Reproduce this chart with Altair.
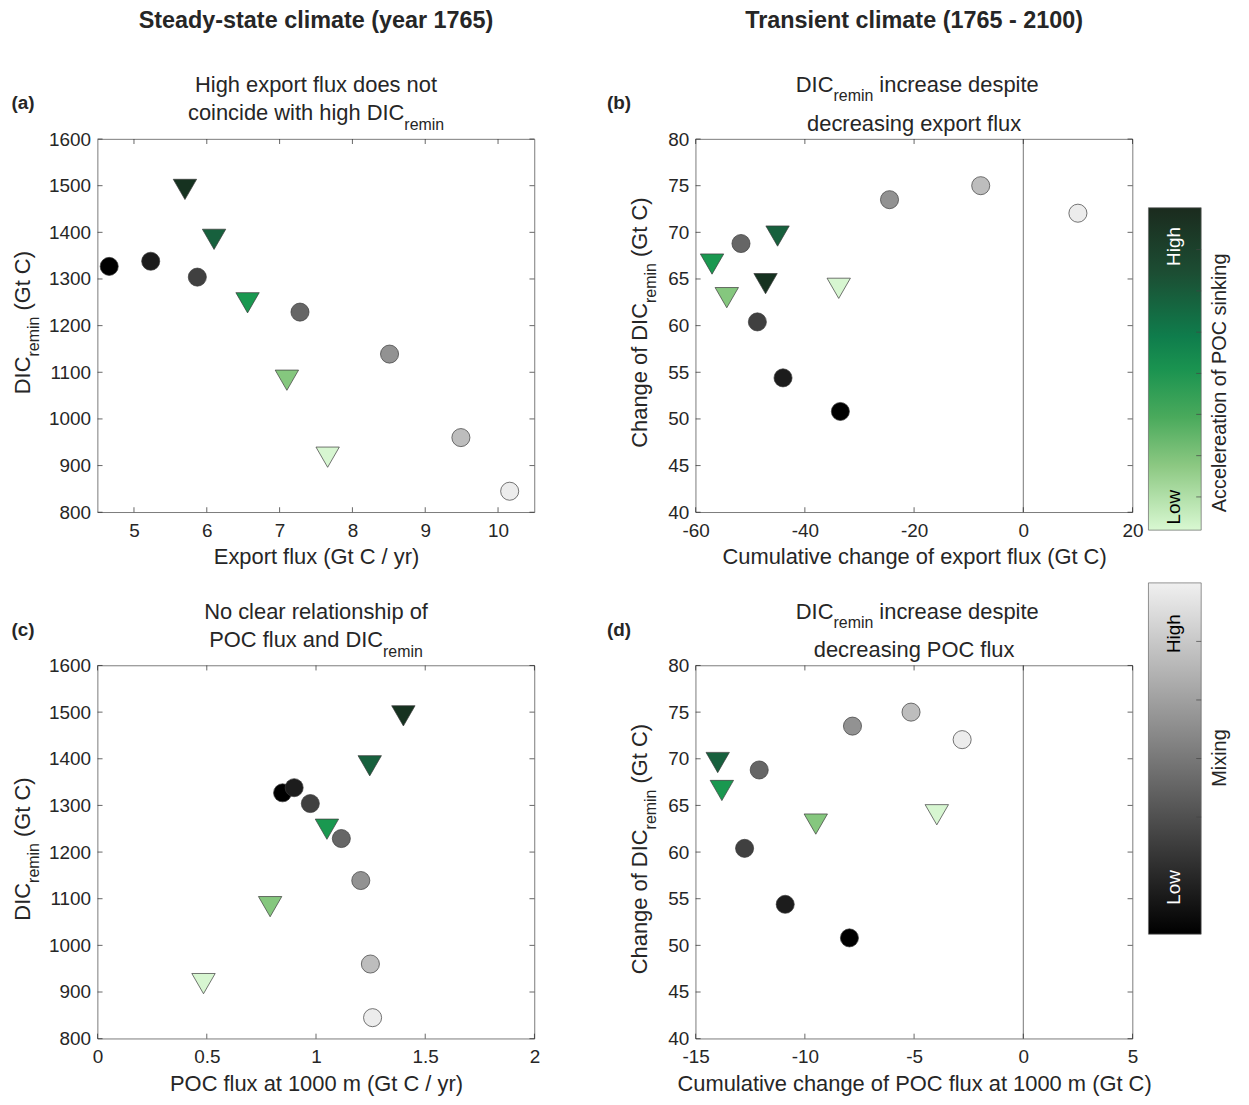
import altair as alt
import pandas as pd

FONT = "Liberation Sans"
TXT = "#262626"

# ---------------- data ----------------
# Mixing experiments (circles), ordered low -> high mixing
mix_level = ["m1", "m2", "m3", "m4", "m5", "m6", "m7"]
mix_export = [4.66, 5.23, 5.87, 7.28, 8.51, 9.49, 10.16]
mix_poc = [0.847, 0.900, 0.974, 1.116, 1.205, 1.249, 1.259]
mix_dic = [1327, 1338, 1304, 1229, 1139, 960, 845]
mix_d_export = [-33.5, -44.0, -48.7, -51.7, -24.5, -7.8, 10.0]
mix_d_poc = [-7.96, -10.9, -12.76, -12.09, -7.82, -5.14, -2.80]
mix_d_dic = [50.8, 54.4, 60.4, 68.8, 73.5, 75.0, 72.05]

# POC-sinking experiments (triangles), ordered low -> high acceleration
sink_level = ["s1", "s2", "s3", "s4", "s5"]
sink_export = [7.66, 7.10, 6.56, 6.10, 5.70]
sink_poc = [0.485, 0.79, 1.05, 1.246, 1.40]
sink_dic = [918, 1083, 1249, 1385, 1492]
sink_d_export = [-33.8, -54.3, -57.0, -45.0, -47.2]
sink_d_poc = [-3.96, -9.5, -13.8, -13.99, None]
sink_d_dic = [64.0, 63.0, 66.6, 69.6, 64.5]

# tick values
ticks_a_x = [5, 6, 7, 8, 9, 10]
ticks_c_x = [0, 0.5, 1, 1.5, 2]
ticks_b_x = [-60, -40, -20, 0, 20]
ticks_d_x = [-15, -10, -5, 0, 5]
ticks_dic = [800, 900, 1000, 1100, 1200, 1300, 1400, 1500, 1600]
ticks_ddic = [40, 45, 50, 55, 60, 65, 70, 75, 80]

# ---------------- styles ----------------
mix_colors = ["#000000", "#1c1c1c", "#404040", "#666666", "#929292", "#bdbdbd", "#ececec"]
sink_colors = ["#d7f6d1", "#85c77e", "#1a9850", "#17603d", "#163220"]
green_stops = [("#1b2b1e", 0.0), ("#1c4d33", 0.2), ("#0f7d4c", 0.4), ("#1a9350", 0.5),
               ("#4aaa5c", 0.65), ("#8cc882", 0.8), ("#d9f8d2", 1.0)]
gray_stops = [("#f0f0f0", 0.0), ("#000000", 1.0)]

rows = []
for i, lv in enumerate(sink_level):
    rows.append(dict(kind="sink", level=lv, export=sink_export[i], poc=sink_poc[i], dic=sink_dic[i],
                     d_export=sink_d_export[i], d_poc=sink_d_poc[i], d_dic=sink_d_dic[i]))
for i, lv in enumerate(mix_level):
    rows.append(dict(kind="mix", level=lv, export=mix_export[i], poc=mix_poc[i], dic=mix_dic[i],
                     d_export=mix_d_export[i], d_poc=mix_d_poc[i], d_dic=mix_d_dic[i]))
df = pd.DataFrame(rows)

W, H = 439, 375
one = pd.DataFrame({"k": [0]})


def T(s, x, y, size=22, angle=0, align="center", weight="normal", color=TXT):
    return alt.Chart(one).mark_text(text=s, font=FONT, fontSize=size, angle=angle, align=align,
                                    baseline="middle", fontWeight=weight, color=color).encode(
        x=alt.value(x), y=alt.value(y))


def panel(xf, yf, xdom, ydom, xt, yt, xtitle, extra, zero_line=False):
    xs = alt.Scale(domain=xdom, nice=False, zero=False)
    ys = alt.Scale(domain=ydom, nice=False, zero=False)
    xa = alt.Axis(values=xt, title=xtitle, labelExpr="'' + datum.value")
    ya = alt.Axis(values=yt, title=None, labelExpr="'' + datum.value")
    pts = alt.Chart(df).mark_point(filled=True, opacity=1, stroke="#3a3a3a", strokeWidth=0.7).encode(
        x=alt.X(f"{xf}:Q", scale=xs, axis=xa),
        y=alt.Y(f"{yf}:Q", scale=ys, axis=ya),
        shape=alt.Shape("kind:N", scale=alt.Scale(domain=["mix", "sink"], range=["circle", "triangle-down"]),
                        legend=None),
        size=alt.Size("kind:N", scale=alt.Scale(domain=["mix", "sink"], range=[330, 552]), legend=None),
        fill=alt.Fill("level:N", scale=alt.Scale(domain=mix_level + sink_level, range=mix_colors + sink_colors),
                      legend=None),
    )
    tx = alt.Chart(pd.DataFrame({"v": xt})).mark_rule(color=TXT, strokeWidth=0.7)
    ty = alt.Chart(pd.DataFrame({"v": yt})).mark_rule(color=TXT, strokeWidth=0.7)
    xe = alt.X("v:Q", scale=xs, axis=xa, title=xtitle)
    ye = alt.Y("v:Q", scale=ys, axis=ya)
    layers = [pts]
    if zero_line:
        layers.append(alt.Chart(one).mark_rule(color="#555555", strokeWidth=0.8).encode(
            x=alt.X("z:Q", scale=xs, axis=xa, title=xtitle)).transform_calculate(z="0"))
    layers += [
        tx.encode(x=xe, y=alt.value(H), y2=alt.value(H - 5)),
        tx.encode(x=xe, y=alt.value(0), y2=alt.value(5)),
        ty.encode(y=ye, x=alt.value(0), x2=alt.value(5)),
        ty.encode(y=ye, x=alt.value(W - 5), x2=alt.value(W)),
    ]
    layers += extra
    return alt.layer(*layers).properties(width=W, height=H)


cx = W / 2

# panel (a)
ext_a = [
    T("Steady-state climate (year 1765)", cx, -119, size=23.5, weight="bold"),
    T("(a)", -75, -36, size=19, weight="bold"),
    T("High export flux does not", cx, -54),
    T("coincide with high DIC", cx + 88.8, -26, align="right"),
    T("remin", cx + 88.8, -14, size=16, align="left"),
    T("DIC", -75, 256.4, angle=270, align="left"),
    T("remin", -64, 218.5, size=16, angle=270, align="left"),
    T("(Gt C)", -75, 172.4, angle=270, align="left"),
]
pa = panel("export", "dic", [4.5, 10.5], [800, 1600], ticks_a_x, ticks_dic, "Export flux (Gt C / yr)", ext_a)


# colorbars (drawn beside panel b)
def gradient(stops):
    return alt.LinearGradient(gradient="linear", x1=0, x2=0, y1=0, y2=1,
                              stops=[alt.GradientStop(color=c, offset=o) for c, o in stops])


CBX = 455
cb = []
cb.append(alt.Chart(one).mark_rect(fill=gradient(green_stops), stroke="#666666", strokeWidth=0.7).encode(
    x=alt.value(CBX), x2=alt.value(CBX + 53), y=alt.value(69), y2=alt.value(393)))
cb.append(alt.Chart(one).mark_rect(fill=gradient(gray_stops), stroke="#666666", strokeWidth=0.7).encode(
    x=alt.value(CBX), x2=alt.value(CBX + 53), y=alt.value(446), y2=alt.value(799)))
for f in [0.13, 0.258, 0.386, 0.514, 0.641, 0.769, 0.897]:
    yy = 69 + f * 324
    cb.append(alt.Chart(one).mark_rule(color="#444444", strokeWidth=0.7).encode(
        x=alt.value(CBX + 48), x2=alt.value(CBX + 53), y=alt.value(yy)))
for f in [1 / 6, 2 / 6, 3 / 6, 4 / 6]:
    yy = 446 + f * 353
    cb.append(alt.Chart(one).mark_rule(color="#444444", strokeWidth=0.7).encode(
        x=alt.value(CBX + 48), x2=alt.value(CBX + 53), y=alt.value(yy)))
cb += [
    T("High", CBX + 26, 108, size=19, angle=270, color="#ffffff"),
    T("Low", CBX + 26, 370, size=19, angle=270, color="#000000"),
    T("High", CBX + 26, 497, size=19, angle=270, color="#000000"),
    T("Low", CBX + 26, 752, size=19, angle=270, color="#ffffff"),
    T("Accelereation of POC sinking", CBX + 72, 245, size=20, angle=270),
    T("Mixing", CBX + 72, 622, size=20, angle=270),
]

# panel (b)
ext_b = [
    T("Transient climate (1765 - 2100)", cx, -119, size=23.5, weight="bold"),
    T("(b)", -77, -36, size=19, weight="bold"),
    T("DIC", cx - 81, -54, align="right"),
    T("remin", cx - 81, -43, size=16, align="left"),
    T("increase despite", cx - 81 + 46.1, -54, align="left"),
    T("decreasing export flux", cx, -15),
    T("Change of DIC", -56, 310.2, angle=270, align="left"),
    T("remin", -45, 164.7, size=16, angle=270, align="left"),
    T("(Gt C)", -56, 118.6, angle=270, align="left"),
] + cb
pb = panel("d_export", "d_dic", [-60, 20], [40, 80], ticks_b_x, ticks_ddic,
           "Cumulative change of export flux (Gt C)", ext_b, zero_line=True)

# panel (c)
ext_c = [
    T("(c)", -75, -36, size=19, weight="bold"),
    T("No clear relationship of", cx, -54),
    T("POC flux and DIC", cx + 67.4, -26, align="right"),
    T("remin", cx + 67.4, -14, size=16, align="left"),
    T("DIC", -75, 256.4, angle=270, align="left"),
    T("remin", -64, 218.5, size=16, angle=270, align="left"),
    T("(Gt C)", -75, 172.4, angle=270, align="left"),
]
pc = panel("poc", "dic", [0, 2], [800, 1600], ticks_c_x, ticks_dic, "POC flux at 1000 m (Gt C / yr)", ext_c)

# panel (d)
ext_d = [
    T("(d)", -77, -36, size=19, weight="bold"),
    T("DIC", cx - 81, -54, align="right"),
    T("remin", cx - 81, -43, size=16, align="left"),
    T("increase despite", cx - 81 + 46.1, -54, align="left"),
    T("decreasing POC flux", cx, -16),
    T("Change of DIC", -56, 310.2, angle=270, align="left"),
    T("remin", -45, 164.7, size=16, angle=270, align="left"),
    T("(Gt C)", -56, 118.6, angle=270, align="left"),
]
pd_ = panel("d_poc", "d_dic", [-15, 5], [40, 80], ticks_d_x, ticks_ddic,
            "Cumulative change of POC flux at 1000 m (Gt C)", ext_d, zero_line=True)

chart = alt.ConcatChart(
    concat=[pa, pb, pc, pd_], columns=2, spacing={"row": 154, "column": 162}, bounds="flush"
).properties(
    padding={"left": 2, "top": -3, "right": 10, "bottom": 10}
).configure_view(
    stroke="#5a5a5a", strokeWidth=0.8
).configure_axis(
    labelFont=FONT, labelFontSize=19, labelColor=TXT, titleFont=FONT, titleFontSize=22,
    titleColor=TXT, titleFontWeight="normal", ticks=False, tickSize=0, domain=False, grid=False,
    labelFlush=False, labelOverlap=False
).configure_axisX(
    labelPadding=9, titlePadding=7
).configure_axisY(
    labelPadding=7
)

chart.save("out.html", embed_options={"renderer": "svg", "actions": False})
